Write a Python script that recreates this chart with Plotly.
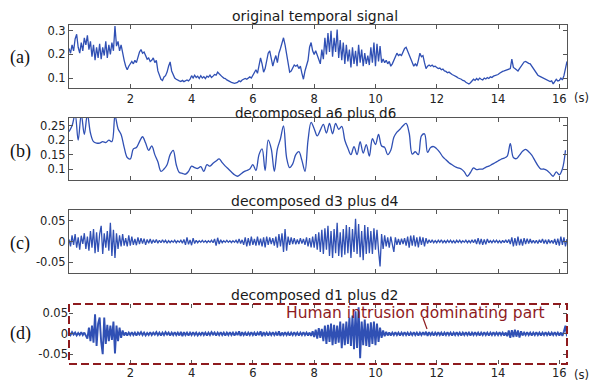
import numpy as np
import plotly.graph_objects as go

W, H = 595, 384
DT_FINE = 0.05    # sample step of the raw signal and detail bands (s)
DT_COARSE = 0.1   # sample step of the a6+d6 approximation (s)
SCALE = 1e-3      # stored values are in thousandths

# (a) original temporal signal, one row per second
original_signal = [
    225, 205, 240, 215, 265, 285, 230, 205, 250, 215, 270, 240, 280, 220, 255, 190, 240, 175, 230, 185,
    245, 180, 230, 195, 255, 185, 240, 200, 250, 215, 320, 235, 255, 215, 240, 200, 175, 150, 135, 150,
    160, 170, 160, 175, 165, 190, 210, 220, 205, 210, 190, 180, 185, 170, 175, 185, 165, 175, 130, 110,
    95, 90, 105, 110, 125, 150, 168, 130, 110, 100, 95, 90, 88, 85, 90, 85, 88, 92, 88, 95,
    110, 100, 112, 102, 108, 98, 110, 100, 106, 98, 108, 104, 112, 102, 108, 115, 112, 125, 118, 110,
    105, 100, 98, 92, 88, 85, 82, 80, 78, 80, 82, 88, 85, 92, 95, 98, 95, 100, 105, 100,
    110, 125, 135, 120, 150, 185, 160, 125, 140, 175, 205, 215, 175, 150, 175, 195, 165, 205, 225, 250,
    270, 240, 195, 150, 125, 130, 140, 155, 150, 155, 140, 150, 120, 95, 130, 160, 175, 230, 250, 215,
    200, 215, 195, 180, 160, 220, 180, 270, 200, 290, 210, 300, 190, 270, 210, 305, 185, 260, 175, 250,
    160, 240, 170, 220, 145, 230, 160, 215, 150, 240, 165, 220, 150, 205, 160, 195, 155, 230, 165, 250,
    150, 245, 170, 235, 165, 180, 165, 175, 160, 170, 150, 160, 175, 190, 205, 195, 200, 195, 210, 225,
    230, 215, 200, 185, 165, 150, 160, 150, 175, 205, 190, 195, 165, 140, 150, 155, 150, 155, 148, 150,
    145, 140, 142, 135, 138, 130, 128, 122, 125, 118, 115, 112, 110, 105, 100, 98, 95, 90, 88, 82,
    78, 75, 80, 88, 95, 90, 98, 92, 100, 95, 92, 100, 96, 102, 98, 105, 102, 108, 110, 112,
    115, 120, 125, 128, 130, 132, 135, 138, 140, 180, 145, 140, 135, 130, 140, 150, 160, 168, 170, 165,
    162, 160, 150, 140, 130, 120, 112, 108, 105, 100, 98, 95, 92, 90, 85, 88, 75, 85, 95, 88,
    90, 100, 92, 110, 140, 170,
]

# (b) decomposed a6 plus d6, one row per second
approx_a6_d6 = [
    230, 250, 290, 200, 290, 220, 290, 225, 195, 190,
    190, 195, 192, 200, 195, 285, 240, 220, 175, 140,
    135, 170, 175, 195, 212, 190, 165, 180, 150, 125,
    92, 100, 115, 150, 165, 115, 88, 85, 82, 92,
    110, 105, 102, 108, 92, 115, 110, 120, 128, 135,
    122, 110, 100, 90, 80, 75, 82, 90, 95, 100,
    115, 95, 150, 170, 95, 200, 170, 92, 170, 205,
    250, 140, 105, 118, 150, 160, 130, 92, 200, 262,
    240, 215, 235, 255, 225, 258, 222, 258, 238, 248,
    200, 172, 150, 178, 150, 195, 155, 185, 145, 205,
    185, 220, 180, 175, 150, 165, 210, 228, 238, 250,
    258, 225, 152, 160, 150, 215, 222, 158, 175, 178,
    170, 158, 142, 132, 122, 115, 108, 104, 100, 90,
    75, 88, 104, 98, 100, 100, 106, 110, 116, 122,
    128, 134, 138, 145, 188, 140, 136, 148, 162, 168,
    160, 148, 130, 112, 100, 100, 95, 85, 75, 90,
    80, 100, 165,
]

# (c) decomposed d3 plus d4, one row per second
detail_d3_d4 = [
    5, -12, 15, -8, 18, -15, 10, -20, 14, -6, 20, -18, 12, -22, 25, -15, 30, -28, 22, -25,
    18, 38, -30, 20, -15, 25, -22, 45, -35, 28, -40, 20, -18, 15, -12, 18, -10, 8, -12, 15,
    -10, 12, -8, 6, -9, 10, -6, 8, -5, 7, -8, 5, -4, 6, -5, 4, -3, 5, -4, 3,
    -3, 4, -2, 3, -4, 2, -3, 2, -2, 3, -3, 2, -2, 3, -4, 5, -8, 10, -7, 4,
    -9, 8, -5, 3, -3, 2, -2, 3, -2, 2, -3, 2, -2, 3, -3, 6, -10, 9, -6, 4,
    -3, 2, -2, 3, -2, 2, -3, 2, -2, 3, -4, 6, -5, 4, -8, 10, -12, 8, -10, 12,
    -8, 6, -10, 12, -9, 7, -12, 10, -14, 12, -8, 10, -6, 8, -10, 12, -15, 18, -12, 20,
    -25, 30, -22, 12, -8, 10, -6, 8, -7, 5, -6, 8, -5, 6, -8, 10, -12, 8, -14, 12,
    -15, 18, -20, 22, -25, 28, -30, 32, -20, 38, -35, 25, -40, 30, -28, 45, -35, 22, -38, 30,
    -32, 40, -28, 35, -40, 30, -25, 55, -30, 42, -38, 25, -45, 40, -30, 35, -28, 25, -30, 32,
    -20, 28, -22, -60, 18, -18, 15, -12, 10, -15, 12, -10, -25, 10, -8, 6, -8, 7, -6, 8,
    -10, 12, -15, 14, -10, 15, -12, 10, -14, 12, -8, 10, -12, 8, -5, 4, -3, 4, -3, 2,
    -3, 3, -2, 4, -3, 2, -3, 3, -2, 3, -3, 2, -4, 3, -2, 3, -3, 2, -2, 3,
    -3, 2, -3, 4, -3, 5, -6, 8, -7, 6, -8, 5, -7, 6, -3, 2, -3, 3, -2, 3,
    -3, 2, -4, 3, -3, 4, -3, 5, -6, 10, -12, 8, -10, 12, -9, 6, -10, 8, -6, 7,
    -5, 6, -4, 3, -4, 3, -5, 4, -3, 6, -5, 4, -6, 5, -4, 3, -5, 6, -8, 7,
    -10, 12, -8, 10, -12, 6,
]

# (d) decomposed d1 plus d2, one row per second
detail_d1_d2 = [
    3, -3, 4, -2, 3, -4, 2, -3, 4, -3, 3, -4, -12, 15, -18, 20, -22, 48, -30, 25,
    40, -20, -50, 40, -25, 22, -18, 20, -15, 30, -48, 20, -18, 15, -10, 8, -4, 3, -4, 3,
    -3, 4, -3, 3, -4, 3, -2, 4, -3, 3, -4, 2, -3, 4, -3, 3, -2, 4, -3, 3,
    -4, 3, -3, 4, -2, 3, -4, 3, -3, 4, -3, 3, -4, 5, -6, 4, -3, 3, -4, 3,
    -3, 4, -3, 3, -4, 2, -3, 4, -3, 3, -4, 3, -3, 4, -2, 3, -4, 3, -3, 4,
    -3, 3, -4, 3, -3, 4, -3, 3, -4, 3, -3, 6, -5, 4, -3, 3, -4, 3, -3, 4,
    -3, 3, -4, 3, -3, 6, -6, 4, -3, 3, -4, 3, -3, 4, -3, 3, -4, 6, -5, 3,
    -3, 4, -3, 3, -4, 3, -3, 4, -3, 3, -4, 3, -3, 4, -3, 3, -4, 3, -5, 6,
    -8, 10, -12, 14, -10, 12, -18, 20, -25, 22, -20, 25, -28, 22, -25, 20, -22, 30, -35, 25,
    -28, 30, -25, 40, -30, 45, -38, 55, -35, 65, -60, 30, -28, 35, -30, 25, -32, 28, -25, 30,
    -28, 25, -20, 15, -10, 8, -6, 5, -4, 3, -4, 3, -3, 4, -3, 3, -4, 3, -3, 4,
    -3, 3, -4, 3, -3, 4, -3, 3, -4, 3, -3, 4, -3, 5, -5, 4, -3, 3, -4, 3,
    -3, 4, -3, 3, -4, 3, -3, 4, -3, 3, -4, 3, -3, 4, -3, 3, -4, 3, -3, 4,
    -3, 3, -4, 3, -3, 4, -3, 3, -4, 3, -3, 4, -3, 3, -4, 3, -3, 4, -3, 3,
    -3, 4, -3, 3, -4, 3, -6, 8, -10, 9, -8, 10, -7, 8, -9, 6, -4, 3, -3, 4,
    -3, 3, -4, 3, -3, 4, -3, 3, -4, 3, -3, 4, -3, 3, -4, 3, -3, 4, -3, 3,
    -4, 3, -5, 6, 20, -6,
]

panel_titles = ["original temporal signal", "decomposed a6 plus d6",
                "decomposed d3 plus d4", "decomposed d1 plus d2"]
panel_tags = ["(a)", "(b)", "(c)", "(d)"]
time_ticks = [2, 4, 6, 8, 10, 12, 14, 16]
y_ticks = [[0.1, 0.2, 0.3], [0.1, 0.15, 0.2, 0.25], [-0.05, 0, 0.05], [-0.05, 0, 0.05]]
y_tick_text = [["0.1", "0.2", "0.3"], ["0.1", "0.15", "0.2", "0.25"],
               ["-0.05", "0", "0.05"], ["-0.05", "0", "0.05"]]
y_ranges = [[0.058, 0.324], [0.062, 0.277], [-0.076, 0.076], [-0.074, 0.073]]
x_range = [0, 16.25]
note_text = "Human intrusion dominating part"

# frame geometry in pixels
LEFT, RIGHT = 69, 567
frames = [(25, 88), (118, 180), (210, 273), (304, 364)]
title_y = [16, 113, 201, 295]
title_size = [14, 13.5, 14, 14]
tag_y = [57, 152, 243, 333]

BLUE = "#3050b4"
DARK_RED = "#8e1b1e"
AXIS = "#555555"
SANS = "DejaVu Sans"
TICK_SIZE = 11.5


def px(xp):
    return xp / W


def py(yp):
    return 1 - yp / H


series = [
    (original_signal, DT_FINE, "linear", 1.3),
    (approx_a6_d6, DT_COARSE, "spline", 1.3),
    (detail_d3_d4, DT_FINE, "linear", 1.3),
    (detail_d1_d2, DT_FINE, "linear", 1.9),
]

fig = go.Figure()
layout = dict(
    width=W, height=H, margin=dict(l=0, r=0, t=0, b=0),
    paper_bgcolor="white", plot_bgcolor="white", showlegend=False,
)

for i, (vals, dt, shape, lw) in enumerate(series):
    n = i + 1
    t = np.arange(len(vals)) * dt
    y = np.asarray(vals, dtype=float) * SCALE
    fig.add_trace(go.Scatter(
        x=t, y=y, mode="lines", xaxis=f"x{n}", yaxis=f"y{n}",
        line=dict(color=BLUE, width=lw, shape=shape), hoverinfo="skip",
    ))
    top, bottom = frames[i]
    is_boxed = i == 3
    layout[f"xaxis{n}"] = dict(
        domain=[px(LEFT), px(RIGHT)], range=x_range, anchor=f"y{n}",
        tickvals=time_ticks, ticktext=[str(v) for v in time_ticks],
        showticklabels=i in (0, 3), ticks="inside", ticklen=4, tickcolor=AXIS,
        showline=not is_boxed, linecolor=AXIS, linewidth=1, mirror="allticks",
        showgrid=False, zeroline=False,
        tickfont=dict(family=SANS, size=TICK_SIZE, color="#222"),
    )
    layout[f"yaxis{n}"] = dict(
        domain=[py(bottom), py(top)], range=y_ranges[i], anchor=f"x{n}",
        tickvals=y_ticks[i], ticktext=y_tick_text[i],
        ticks="inside", ticklen=4, tickcolor=AXIS,
        showline=not is_boxed, linecolor=AXIS, linewidth=1, mirror="allticks",
        showgrid=False, zeroline=False,
        tickfont=dict(family=SANS, size=TICK_SIZE, color="#222"),
    )

annotations = []
for i in range(4):
    annotations.append(dict(
        text=panel_titles[i], x=px(315), y=py(title_y[i]), xref="paper", yref="paper",
        xanchor="center", yanchor="middle", showarrow=False,
        font=dict(family=SANS, size=title_size[i], color="#1a1a1a"),
    ))
    annotations.append(dict(
        text=panel_tags[i], x=px(20), y=py(tag_y[i]), xref="paper", yref="paper",
        xanchor="center", yanchor="middle", showarrow=False,
        font=dict(family="Liberation Serif", size=18, color="#111"),
    ))
for yy in (98, 375):
    annotations.append(dict(
        text="(s)", x=px(572), y=py(yy), xref="paper", yref="paper",
        xanchor="left", yanchor="middle", showarrow=False,
        font=dict(family=SANS, size=TICK_SIZE, color="#222"),
    ))
annotations.append(dict(
    text=note_text, x=px(415), y=py(313), xref="paper", yref="paper",
    xanchor="center", yanchor="middle", showarrow=False,
    font=dict(family=SANS, size=15.5, color=DARK_RED),
))
layout["annotations"] = annotations

top, bottom = frames[3]
layout["shapes"] = [
    dict(type="rect", xref="paper", yref="paper",
         x0=px(LEFT), x1=px(RIGHT), y0=py(bottom), y1=py(top),
         line=dict(color=DARK_RED, width=2, dash="8px,4px"), layer="above"),
    dict(type="line", xref="paper", yref="paper",
         x0=px(423), y0=py(318), x1=px(427), y1=py(329),
         line=dict(color=DARK_RED, width=1.2)),
]

fig.update_layout(**layout)
fig.write_html("out.html")
